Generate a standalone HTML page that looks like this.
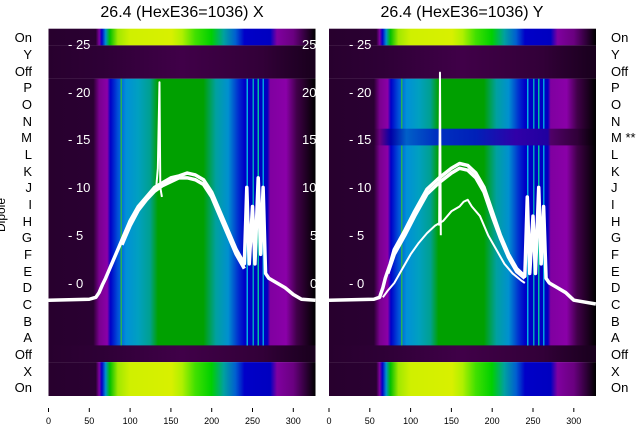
<!DOCTYPE html>
<html><head><meta charset="utf-8"><style>body{margin:0;background:#fff}svg{display:block;font-family:"Liberation Sans","DejaVu Sans",sans-serif}</style></head><body>
<svg width="640" height="440" viewBox="0 0 640 440">
<defs>
<linearGradient id="gM" x1="0" x2="1" y1="0" y2="0">
<stop offset="0" stop-color="#28002e"/><stop offset=".168" stop-color="#2a0032"/><stop offset=".19" stop-color="#7a0090"/><stop offset=".22" stop-color="#8a00a8"/><stop offset=".232" stop-color="#0000c8"/><stop offset=".26" stop-color="#0050d8"/><stop offset=".29" stop-color="#0090d8"/><stop offset=".336" stop-color="#00a0c0"/><stop offset=".38" stop-color="#00a090"/><stop offset=".41" stop-color="#00a000"/><stop offset=".58" stop-color="#00a000"/><stop offset=".627" stop-color="#00a0a0"/><stop offset=".673" stop-color="#0090d0"/><stop offset=".71" stop-color="#0030d0"/><stop offset=".734" stop-color="#0000c8"/><stop offset=".82" stop-color="#0000c0"/><stop offset=".83" stop-color="#8000a0"/><stop offset=".89" stop-color="#8a00a8"/><stop offset=".93" stop-color="#400048"/><stop offset="1" stop-color="#000"/>
</linearGradient>
<linearGradient id="gMM" x1="0" x2="1" y1="0" y2="0">
<stop offset="0" stop-color="#28002e"/><stop offset=".168" stop-color="#2a0032"/><stop offset=".19" stop-color="#6a0080"/><stop offset=".232" stop-color="#0000a8"/><stop offset=".29" stop-color="#0060c8"/><stop offset=".4" stop-color="#0030c0"/><stop offset=".55" stop-color="#0020b8"/><stop offset=".7" stop-color="#3000a8"/><stop offset=".82" stop-color="#2000a0"/><stop offset=".83" stop-color="#500068"/><stop offset=".93" stop-color="#300038"/><stop offset="1" stop-color="#000"/>
</linearGradient>
<linearGradient id="gO" x1="0" x2="1" y1="0" y2="0">
<stop offset="0" stop-color="#28002e"/><stop offset=".177" stop-color="#2a0032"/><stop offset=".19" stop-color="#8000a0"/><stop offset=".2" stop-color="#0000c8"/><stop offset=".214" stop-color="#0090d0"/><stop offset=".23" stop-color="#00c000"/><stop offset=".26" stop-color="#a0e800"/><stop offset=".306" stop-color="#d0f000"/><stop offset=".46" stop-color="#d8f000"/><stop offset=".5" stop-color="#b0f000"/><stop offset=".55" stop-color="#40e000"/><stop offset=".61" stop-color="#00d000"/><stop offset=".657" stop-color="#00a0a0"/><stop offset=".7" stop-color="#0060d0"/><stop offset=".734" stop-color="#0000c8"/><stop offset=".83" stop-color="#0000c0"/><stop offset=".856" stop-color="#8000a0"/><stop offset=".917" stop-color="#6a0080"/><stop offset="1" stop-color="#000"/>
</linearGradient>
<linearGradient id="gF" x1="0" x2="1" y1="0" y2="0">
<stop offset="0" stop-color="#28002e"/><stop offset=".2" stop-color="#2e0036"/><stop offset=".5" stop-color="#400048"/><stop offset=".8" stop-color="#320038"/><stop offset="1" stop-color="#18001c"/>
</linearGradient>
<clipPath id="cL"><rect x="48" y="0" width="267.5" height="440"/></clipPath>
<g id="panel">
<rect x="0" y="28.7" width="267" height="16.7" fill="url(#gO)"/>
<rect x="0" y="45.4" width="267" height="33.4" fill="url(#gF)"/>
<rect x="0" y="78.7" width="267" height="266.8" fill="url(#gM)"/>
<rect x="0" y="345.4" width="267" height="16.7" fill="url(#gF)"/>
<rect x="0" y="362.1" width="267" height="33.9" fill="url(#gO)"/>
<rect x="72" y="78.7" width="1.5" height="266.8" fill="#40e000" opacity=".6"/>
<rect x="198" y="78.7" width="1.5" height="266.8" fill="#00b0e0"/>
<rect x="204" y="78.7" width="1.5" height="266.8" fill="#00a0c0"/>
<rect x="209" y="78.7" width="1.5" height="266.8" fill="#00c0a0"/>
<rect x="214" y="78.7" width="1.5" height="266.8" fill="#00a0e0"/>
</g>
</defs>
<text x="182" y="17" font-size="16" text-anchor="middle">26.4 (HexE36=1036) X</text>
<text x="462" y="17" font-size="16" text-anchor="middle">26.4 (HexE36=1036) Y</text>
<use href="#panel" transform="translate(48.5,0)"/>
<use href="#panel" transform="translate(329,0)"/>
<rect x="329" y="128.7" width="267" height="16.7" fill="url(#gMM)"/>
<g font-size="13" fill="#fff">
<text x="68" y="49">- 25</text><text x="68" y="97">- 20</text><text x="68" y="144">- 15</text><text x="68" y="192">- 10</text><text x="68" y="240">- 5</text><text x="68" y="288">- 0</text>
<text x="349" y="49">- 25</text><text x="349" y="97">- 20</text><text x="349" y="144">- 15</text><text x="349" y="192">- 10</text><text x="349" y="240">- 5</text><text x="349" y="288">- 0</text>
</g>
<g font-size="13" fill="#fff" clip-path="url(#cL)">
<text x="302" y="49">25</text><text x="302" y="97">20</text><text x="302" y="144">15</text><text x="302" y="192">10</text><text x="310" y="240">5</text><text x="310" y="288">0</text>
</g>
<g fill="none" stroke="#fff" stroke-width="3.5" stroke-linejoin="round">
<g transform="translate(48.5,283) scale(0.816,-9.56)">
<polyline vector-effect="non-scaling-stroke" points="0,-1.8 50,-1.7 58,-1.5 62,-1 66,-0.2 70,0.5 80,2.5 90,4.5 100,6.5 110,8 120,9 130,10 140,10.5 150,11 160,11.2 170,11.5 180,11.3 190,10.8 200,9.5 210,7.5 220,5.5 230,3.5 240,2 243,10 246,2 250,8 253,2 257,11 260,3 263,10 266,1 270,0.5 280,0 290,-0.5 300,-1.2 310,-1.7 327,-1.8"/>
<polyline vector-effect="non-scaling-stroke" points="90,4 100,6 110,7.6 120,8.7 130,9.6 140,10.2 150,10.6 160,11 170,11 180,10.8 190,10.3 200,9 210,7 220,5 230,3 240,1.5"/>
<polyline vector-effect="non-scaling-stroke" stroke-width="2" points="132,10 134,12 136,21 137,10 139,9"/>
</g>
<g transform="translate(329,283) scale(0.816,-9.56)">
<polyline vector-effect="non-scaling-stroke" points="0,-1.8 55,-1.7 62,-1.5 66,-0.5 69,0.5 75,2 80,3.5 93,5.5 105,7.5 120,9.8 135,11 150,12 160,12.5 170,12.3 180,11.5 190,10 200,7.5 210,5 220,3 230,1.5 240,0.7 243,9 246,1 250,7 253,1 257,10 260,2 263,8 266,0.5 270,0 280,-0.5 290,-1 300,-1.8 327,-2.2"/>
<polyline vector-effect="non-scaling-stroke" points="72,1 80,3 93,5 105,7 120,9.3 135,10.5 150,11.5 160,12 170,11.8 180,11 190,9.5 200,7 210,4.7 220,2.7 230,1.2 240,0.5"/>
<polyline vector-effect="non-scaling-stroke" stroke-width="2" points="66,-1.5 72,-0.8 80,0 90,1.5 100,3 110,4.2 120,5.2 130,6 140,6.5 150,7.5 160,8 165,8.5 170,8.7 175,8 185,7 195,5 205,3.5 215,2 225,1 235,0.3 240,0"/>
<polyline vector-effect="non-scaling-stroke" stroke-width="2" points="135,6 136,22 137,5"/>
</g>
</g>
<g font-size="13" fill="#000" text-anchor="end">
<text x="32" y="42">On</text><text x="32" y="59">Y</text><text x="32" y="76">Off</text><text x="32" y="92">P</text><text x="32" y="109">O</text><text x="32" y="126">N</text><text x="32" y="142">M</text><text x="32" y="159">L</text><text x="32" y="176">K</text><text x="32" y="192">J</text><text x="32" y="209">I</text><text x="32" y="226">H</text><text x="32" y="242">G</text><text x="32" y="259">F</text><text x="32" y="276">E</text><text x="32" y="292">D</text><text x="32" y="309">C</text><text x="32" y="326">B</text><text x="32" y="342">A</text><text x="32" y="359">Off</text><text x="32" y="376">X</text><text x="32" y="392">On</text>
</g>
<g font-size="13" fill="#000">
<text x="611" y="42">On</text><text x="611" y="59">Y</text><text x="611" y="76">Off</text><text x="611" y="92">P</text><text x="611" y="109">O</text><text x="611" y="126">N</text><text x="611" y="142">M **</text><text x="611" y="159">L</text><text x="611" y="176">K</text><text x="611" y="192">J</text><text x="611" y="209">I</text><text x="611" y="226">H</text><text x="611" y="242">G</text><text x="611" y="259">F</text><text x="611" y="276">E</text><text x="611" y="292">D</text><text x="611" y="309">C</text><text x="611" y="326">B</text><text x="611" y="342">A</text><text x="611" y="359">Off</text><text x="611" y="376">X</text><text x="611" y="392">On</text>
</g>
<text transform="translate(5,215) rotate(-90)" font-size="12" text-anchor="middle">Dipole</text>
<g stroke="#000" stroke-width="1">
<path d="M48.5,408v4M89.3,408v4M130.1,408v4M170.9,408v4M211.7,408v4M252.5,408v4M293.3,408v4M329,408v4M369.8,408v4M410.6,408v4M451.4,408v4M492.2,408v4M533,408v4M573.8,408v4"/>
</g>
<g font-size="9" fill="#000" text-anchor="middle">
<text x="48.5" y="424">0</text><text x="89.3" y="424">50</text><text x="130.1" y="424">100</text><text x="170.9" y="424">150</text><text x="211.7" y="424">200</text><text x="252.5" y="424">250</text><text x="293.3" y="424">300</text>
<text x="329" y="424">0</text><text x="369.8" y="424">50</text><text x="410.6" y="424">100</text><text x="451.4" y="424">150</text><text x="492.2" y="424">200</text><text x="533" y="424">250</text><text x="573.8" y="424">300</text>
</g>
</svg>
</body></html>
